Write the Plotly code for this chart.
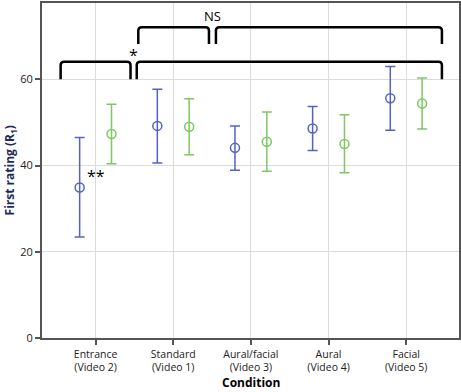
import plotly.graph_objects as go

categories = ["Entrance<br>(Video 2)", "Standard<br>(Video 1)", "Aural/facial<br>(Video 3)",
              "Aural<br>(Video 4)", "Facial<br>(Video 5)"]
blue_mean = [34.9, 49.2, 44.1, 48.6, 55.6]
blue_low = [23.4, 40.6, 38.9, 43.5, 48.2]
blue_high = [46.5, 57.7, 49.2, 53.7, 63.0]
green_mean = [47.3, 49.0, 45.5, 45.0, 54.4]
green_low = [40.4, 42.5, 38.7, 38.3, 48.5]
green_high = [54.2, 55.5, 52.4, 51.8, 60.3]
y_ticks = [0, 20, 40, 60]

# significance brackets: (x start, x end, top value, leg bottom value)
bracket_x0 = [-0.45, 0.53, 0.55, 1.55]
bracket_x1 = [0.45, 4.46, 1.46, 4.46]
bracket_top = [64.1, 64.1, 72.1, 72.1]
bracket_bottom = [60.0, 60.0, 68.2, 68.2]

BLUE = "#5463c2"
GREEN = "#7dc863"
FONT = "Open Sans, Noto Sans, sans-serif"

idx = list(range(len(categories)))
off = 0.205

fig = go.Figure()
for mean, low, high, color, shift in [(blue_mean, blue_low, blue_high, BLUE, -off),
                                      (green_mean, green_low, green_high, GREEN, off)]:
    fig.add_trace(go.Scatter(
        x=[i + shift for i in idx], y=mean, mode="markers",
        marker=dict(symbol="circle-open", size=9, color=color, line=dict(width=1.5, color=color)),
        error_y=dict(type="data", symmetric=False,
                     array=[h - m for h, m in zip(high, mean)],
                     arrayminus=[m - l for m, l in zip(mean, low)],
                     color=color, thickness=1.5, width=5),
        showlegend=False, hoverinfo="skip"))

rx, ry = 0.045, 0.8
for x0, x1, yt, yb in zip(bracket_x0, bracket_x1, bracket_top, bracket_bottom):
    path = (f"M {x0},{yb} L {x0},{yt - ry} Q {x0},{yt} {x0 + rx},{yt} "
            f"L {x1 - rx},{yt} Q {x1},{yt} {x1},{yt - ry} L {x1},{yb}")
    fig.add_shape(type="path", path=path, xref="x", yref="y",
                  line=dict(color="black", width=2.5))

fig.add_annotation(x=0.49, y=65.6, text="*", showarrow=False, xref="x", yref="y",
                   font=dict(size=16, color="black", family=FONT))
fig.add_annotation(x=1.51, y=74.8, text="NS", showarrow=False, xref="x", yref="y",
                   font=dict(size=13, color="black", family=FONT))
fig.add_annotation(x=0.0, y=37.6, text="**", showarrow=False, xref="x", yref="y",
                   font=dict(size=16, color="black", family=FONT))

# axis titles
fig.add_annotation(x=0.5, y=-0.163, xref="paper", yref="paper", yanchor="bottom", text="<b>Condition</b>",
                   showarrow=False, font=dict(size=12, color="black", family=FONT))
fig.add_annotation(x=-0.077, y=0.5, xref="paper", yref="paper", xanchor="center", yanchor="middle",
                   text="<b>First rating (R<sub>1</sub>)</b>", textangle=-90,
                   showarrow=False, font=dict(size=12, color="#1f2a5c", family=FONT))

fig.update_layout(
    width=461, height=392,
    margin=dict(l=42, r=2, t=3, b=54, autoexpand=False),
    plot_bgcolor="white", paper_bgcolor="white",
    font=dict(family=FONT, size=11, color="#222"),
)
fig.update_xaxes(
    range=[-0.69, 4.68], tickmode="array", tickvals=idx, ticktext=categories,
    showgrid=True, gridcolor="#dcdcdc", gridwidth=1,
    showline=True, linecolor="#555", linewidth=2, mirror=True,
    ticks="outside", ticklen=5, tickcolor="#555", tickwidth=1.5,
    automargin=False, zeroline=False, tickfont=dict(size=10.5), ticklabelstandoff=0,
)
fig.update_yaxes(
    range=[0, 77.7], tickvals=y_ticks,
    showgrid=True, gridcolor="#dcdcdc", gridwidth=1,
    showline=True, linecolor="#555", linewidth=2, mirror=True,
    ticks="outside", ticklen=5, tickcolor="#555", tickwidth=1.5,
    automargin=False, zeroline=False, tickfont=dict(size=11),
)

fig.write_html("out.html", config={"displayModeBar": False},
               post_script="document.body.style.margin='0px';document.body.style.overflow='hidden';")
